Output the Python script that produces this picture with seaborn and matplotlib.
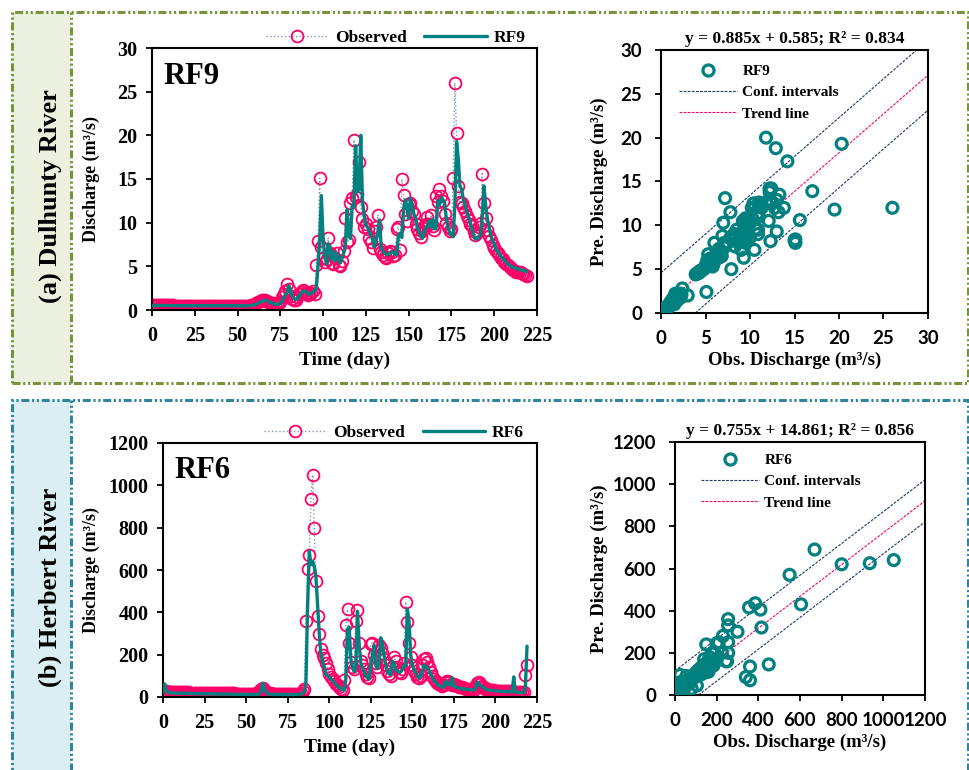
import numpy as np
import matplotlib
matplotlib.use("Agg")
import matplotlib.pyplot as plt
import seaborn as sns
from matplotlib.lines import Line2D
from matplotlib.patches import Rectangle

# Daily discharge, Dulhunty River (m3/s), rows of 10 days
RF9_OBS = [
    0.55, 0.55, 0.55, 0.54, 0.54, 0.54, 0.53, 0.53, 0.53, 0.52,
    0.52, 0.52, 0.52, 0.51, 0.51, 0.51, 0.50, 0.50, 0.50, 0.50,
    0.50, 0.49, 0.49, 0.49, 0.49, 0.48, 0.48, 0.48, 0.48, 0.47,
    0.47, 0.47, 0.47, 0.46, 0.46, 0.46, 0.46, 0.45, 0.45, 0.45,
    0.45, 0.45, 0.44, 0.44, 0.44, 0.44, 0.44, 0.43, 0.43, 0.43,
    0.43, 0.43, 0.42, 0.42, 0.42, 0.42, 0.45, 0.50, 0.55, 0.60,
    0.70, 0.80, 0.90, 1.00, 1.10, 1.20, 1.15, 1.00, 0.90, 0.85,
    0.80, 0.75, 0.70, 0.70, 0.75, 0.90, 1.50, 1.80, 2.20, 3.00,
    2.40, 1.60, 1.30, 1.10, 1.20, 1.50, 1.80, 2.10, 2.30, 2.20,
    1.90, 1.70, 1.80, 2.00, 2.20, 1.80, 5.10, 7.90, 15.1, 7.20,
    6.00, 5.50, 5.80, 8.30, 6.50, 5.40, 5.30, 5.90, 6.50, 5.20,
    5.00, 5.60, 6.80, 10.5, 7.80, 8.00, 12.3, 12.8, 19.5, 12.9,
    13.3, 17.0, 11.8, 10.4, 9.50, 9.80, 9.30, 8.20, 7.80, 7.10,
    9.00, 9.50, 10.9, 7.00, 6.60, 6.30, 6.10, 6.00, 6.50, 6.80,
    6.60, 6.20, 6.30, 9.30, 9.50, 6.90, 15.0, 13.2, 11.0, 10.2,
    12.1, 12.3, 11.3, 11.0, 9.80, 9.30, 8.80, 8.40, 9.00, 9.60,
    9.80, 10.6, 9.80, 10.9, 9.60, 9.20, 13.0, 12.4, 13.8, 13.0,
    12.5, 11.0, 10.0, 9.50, 9.00, 9.30, 15.1, 26.0, 20.3, 14.2,
    12.4, 12.2, 11.8, 11.3, 10.8, 10.3, 9.80, 9.60, 9.00, 8.60,
    8.80, 9.50, 10.0, 15.6, 12.2, 10.5, 9.20, 8.50, 8.00, 7.50,
    7.10, 6.80, 6.50, 6.30, 6.00, 5.80, 5.50, 5.30, 5.10, 4.90,
    4.80, 4.60, 4.50, 4.40, 4.30, 4.30, 4.20, 4.10, 4.00, 3.90,
]
RF9_PRED = [
    0.52, 0.52, 0.52, 0.52, 0.51, 0.51, 0.51, 0.51, 0.51, 0.51,
    0.50, 0.50, 0.50, 0.50, 0.50, 0.50, 0.50, 0.50, 0.50, 0.50,
    0.50, 0.50, 0.50, 0.50, 0.50, 0.50, 0.50, 0.50, 0.50, 0.50,
    0.49, 0.49, 0.49, 0.49, 0.49, 0.49, 0.49, 0.49, 0.49, 0.49,
    0.49, 0.49, 0.49, 0.49, 0.49, 0.49, 0.49, 0.49, 0.49, 0.49,
    0.48, 0.48, 0.48, 0.48, 0.48, 0.48, 0.48, 0.50, 0.52, 0.56,
    0.60, 0.68, 0.78, 0.88, 0.98, 1.08, 1.15, 1.05, 0.95, 0.85,
    0.78, 0.72, 0.68, 0.65, 0.66, 0.75, 1.00, 1.40, 1.75, 2.00,
    2.80, 2.20, 1.60, 1.30, 1.20, 1.30, 1.60, 1.90, 2.10, 2.20,
    2.10, 1.90, 1.80, 1.90, 2.10, 2.20, 2.40, 5.00, 8.00, 13.1,
    8.00, 6.20, 5.30, 7.60, 7.30, 5.80, 6.70, 5.60, 6.50, 6.00,
    5.40, 5.90, 6.50, 7.20, 11.5, 8.50, 8.20, 12.0, 11.8, 18.8,
    13.5, 13.9, 20.0, 12.5, 10.8, 9.70, 9.50, 9.00, 8.60, 8.00,
    7.20, 8.00, 9.00, 10.3, 7.20, 6.80, 6.50, 6.40, 6.30, 6.50,
    6.70, 6.60, 6.40, 6.30, 8.50, 8.80, 8.30, 11.5, 12.6, 12.0,
    10.5, 12.8, 12.2, 11.0, 10.6, 9.50, 9.00, 8.50, 8.20, 8.80,
    9.40, 9.60, 10.2, 9.50, 10.4, 9.30, 9.30, 12.5, 12.0, 12.9,
    12.6, 12.3, 10.5, 9.40, 8.80, 8.60, 8.40, 12.0, 19.3, 17.3,
    14.2, 13.8, 12.6, 12.0, 11.3, 10.7, 10.0, 9.30, 8.50, 8.10,
    8.20, 8.30, 8.60, 10.6, 14.2, 12.0, 10.5, 9.50, 8.60, 8.00,
    7.50, 7.00, 6.70, 6.40, 6.10, 5.90, 5.70, 5.50, 5.30, 5.10,
    5.00, 4.90, 4.80, 4.80, 4.70, 4.60, 4.60, 4.50, 4.50, 4.40,
]

# Daily discharge, Herbert River (m3/s)
RF6_OBS = [
    30, 28, 26, 25, 25, 24, 24, 24, 23, 23,
    23, 23, 22, 22, 22, 22, 21, 21, 21, 21,
    21, 20, 20, 20, 20, 20, 19, 19, 19, 19,
    19, 19, 18, 18, 18, 18, 18, 18, 17, 17,
    17, 17, 17, 17, 16, 16, 16, 16, 16, 16,
    16, 15, 15, 15, 15, 15, 15, 18, 28, 40,
    42, 35, 25, 20, 18, 17, 16, 16, 16, 15,
    15, 15, 15, 15, 15, 14, 14, 14, 14, 14,
    14, 14, 15, 18, 30, 40, 360, 605, 670, 935,
    1050, 800, 550, 385, 300, 225, 200, 185, 160, 130,
    110, 95, 85, 75, 60, 55, 45, 40, 35, 80,
    340, 415, 255, 165, 140, 130, 360, 410, 255, 170,
    150, 130, 110, 95, 90, 250, 255, 200, 160, 140,
    245, 230, 210, 180, 150, 125, 110, 100, 140, 190,
    170, 140, 120, 115, 130, 160, 450, 355, 255, 190,
    150, 125, 110, 95, 90, 100, 150, 180, 185, 165,
    140, 120, 100, 85, 75, 65, 60, 55, 50, 55,
    70, 75, 70, 60, 55, 60, 55, 50, 48, 45,
    45, 42, 40, 40, 38, 38, 36, 35, 45, 65,
    70, 60, 50, 45, 40, 38, 35, 33, 32, 32,
    30, 30, 29, 29, 28, 28, 27, 27, 26, 26,
    26, 25, 25, 25, 24, 24, 24, 25, 105, 150,
]
RF6_PRED = [
    20, 62, 30, 22, 20, 19, 19, 19, 18, 18,
    18, 18, 18, 17, 17, 17, 17, 17, 16, 16,
    16, 16, 16, 16, 15, 15, 15, 15, 15, 15,
    15, 15, 14, 14, 14, 14, 14, 14, 14, 14,
    14, 13, 13, 13, 13, 13, 13, 13, 13, 13,
    13, 13, 12, 12, 12, 12, 12, 12, 15, 25,
    65, 40, 22, 16, 14, 13, 13, 13, 12, 12,
    12, 12, 12, 12, 12, 12, 12, 12, 12, 12,
    12, 12, 12, 14, 18, 22, 70, 430, 690, 625,
    640, 620, 570, 435, 300, 200, 170, 140, 110, 100,
    95, 85, 80, 70, 60, 50, 45, 40, 35, 30,
    85, 320, 330, 180, 140, 120, 135, 405, 250, 160,
    140, 120, 100, 90, 85, 160, 200, 245, 150, 135,
    160, 280, 250, 200, 150, 120, 110, 105, 170, 160,
    130, 120, 115, 120, 130, 150, 145, 415, 360, 200,
    150, 130, 115, 100, 90, 95, 120, 150, 145, 140,
    125, 110, 95, 80, 70, 60, 55, 50, 45, 50,
    75, 60, 65, 55, 90, 50, 48, 45, 42, 40,
    40, 38, 37, 36, 35, 35, 34, 33, 40, 70,
    60, 55, 48, 42, 38, 35, 33, 32, 30, 30,
    29, 28, 28, 27, 27, 26, 26, 25, 25, 25,
    24, 95, 24, 22, 22, 21, 21, 20, 45, 240,
]

# regression results printed above the scatter plots
RF9_FIT = (0.885, 0.585, 0.834, 4.0)      # slope, intercept, R2, conf. half-width
RF6_FIT = (0.755, 14.861, 0.856, 100.0)

OBS_RING = "#ff0066"
OBS_LINE = "#8497b0"
TEAL = "#00807f"
NAVY = "#1f3864"

sns.set_theme(style="ticks")
plt.rcParams["font.family"] = ["Liberation Serif", "DejaVu Serif"]
plt.rcParams["font.weight"] = "bold"
plt.rcParams["axes.labelweight"] = "bold"
plt.rcParams["axes.edgecolor"] = "black"
plt.rcParams["text.color"] = "black"
plt.rcParams["axes.labelcolor"] = "black"
plt.rcParams["xtick.color"] = "black"
plt.rcParams["ytick.color"] = "black"

W, H = 970, 770
fig = plt.figure(figsize=(W / 100, H / 100), dpi=100)


def px_axes(left, top, right, bottom):
    return fig.add_axes([left / W, 1 - bottom / H, (right - left) / W, (bottom - top) / H])


def panel_box(top, bottom, edge, fill, label, label_y):
    dash = (0, (2.6, 0.9, 0.7, 0.9, 0.7, 0.9))
    x0, x1, xd = 12 / W, 968 / W, 71 / W
    y0, y1 = 1 - bottom / H, 1 - top / H
    fig.patches.append(Rectangle((x0, y0), xd - x0, y1 - y0, transform=fig.transFigure,
                                 fc=fill, ec="none", zorder=0))
    fig.patches.append(Rectangle((x0, y0), x1 - x0, y1 - y0, transform=fig.transFigure,
                                 fill=False, ec=edge, lw=2.2, ls=dash, zorder=1))
    fig.lines.append(Line2D([xd, xd], [y0, y1], transform=fig.transFigure,
                            color=edge, lw=2.2, ls=dash))
    fig.text(50 / W, 1 - label_y / H, label, rotation=90, ha="center", va="center",
             fontsize=19, fontweight="bold")


def style_axes(ax, xpad, ypad):
    for sp in ax.spines.values():
        sp.set_visible(True)
        sp.set_color("black")
        sp.set_linewidth(1.5)
    ax.tick_params(direction="out", length=4.5, width=1.3)
    ax.tick_params(axis="x", pad=xpad)
    ax.tick_params(axis="y", pad=ypad)
    ax.grid(False)


def draw_series(ax, obs, pred, name, ymax, ystep, legend_x, ylab_x):
    days = np.arange(len(obs))
    sns.lineplot(x=days, y=obs, ax=ax, estimator=None, sort=False,
                 color=OBS_LINE, linestyle=":", linewidth=1.0,
                 marker="o", markersize=8.5, markerfacecolor="none",
                 markeredgecolor=OBS_RING, markeredgewidth=1.3, zorder=2)
    sns.lineplot(x=days, y=pred, ax=ax, estimator=None, sort=False,
                 color=TEAL, linewidth=2.4, zorder=3)
    ax.set_xlim(0, 225)
    ax.set_xticks(np.arange(0, 226, 25))
    ax.set_ylim(0, ymax)
    ax.set_yticks(np.arange(0, ymax + 1, ystep))
    style_axes(ax, 7, 6)
    ax.tick_params(labelsize=14.5)
    ax.set_xlabel("Time (day)", fontsize=14, fontweight="bold", labelpad=4)
    ax.set_ylabel("Discharge (m³/s)", fontsize=13, fontweight="bold")
    ax.yaxis.set_label_coords(ylab_x, 0.5)
    ax.text(0.03, 0.89, name, transform=ax.transAxes, fontsize=22,
            fontweight="bold", ha="left", va="center")
    handles = [
        Line2D([], [], color=OBS_LINE, ls=":", lw=1.0, marker="o", ms=8.5,
               mfc="none", mec=OBS_RING, mew=1.3),
        Line2D([], [], color=TEAL, lw=2.4),
    ]
    ax.legend(handles, ["Observed", name], loc="lower right",
              bbox_to_anchor=(legend_x, 1.0), ncol=2, frameon=False,
              fontsize=12.5, handlelength=3.6, columnspacing=1.0,
              handletextpad=0.4, borderpad=0.1, borderaxespad=0)


def draw_scatter(ax, obs, pred, name, fit, lim, step, leg_anchor, ylab_x):
    slope, icpt, r2, ci = fit
    sns.scatterplot(x=obs, y=pred, ax=ax, s=62, color=TEAL, facecolor="none",
                    edgecolor=TEAL, linewidth=2.3, zorder=3, legend=False)
    ax.axline((0, icpt + ci), slope=slope, color=NAVY, lw=0.8, ls=(0, (2.5, 1.2)), zorder=2)
    ax.axline((0, icpt - ci), slope=slope, color=NAVY, lw=0.8, ls=(0, (2.5, 1.2)), zorder=2)
    ax.axline((0, icpt), slope=slope, color=OBS_RING, lw=0.8, ls=(0, (2.5, 1.2)), zorder=2)
    ax.set_xlim(0, lim)
    ax.set_ylim(0, lim)
    ax.set_xticks(np.arange(0, lim + 1, step))
    ax.set_yticks(np.arange(0, lim + 1, step))
    style_axes(ax, 8, 9)
    for lbl in ax.get_xticklabels() + ax.get_yticklabels():
        lbl.set_fontfamily("Lato")
        lbl.set_fontweight("bold")
        lbl.set_fontsize(13.5)
    ax.set_xlabel("Obs. Discharge (m³/s)", fontsize=13.5, fontweight="bold", labelpad=3)
    ax.set_ylabel("Pre. Discharge (m³/s)", fontsize=13.5, fontweight="bold")
    ax.yaxis.set_label_coords(ylab_x, 0.5)
    ax.set_title(f"y = {slope:.3f}x + {icpt:.3f}; R² = {r2:.3f}", fontsize=12.5,
                 fontweight="bold", pad=5)
    handles = [
        Line2D([], [], ls="none", marker="o", ms=8, mfc="none", mec=TEAL, mew=2.3),
        Line2D([], [], color=NAVY, lw=0.8, ls=(0, (2.5, 1.2))),
        Line2D([], [], color=OBS_RING, lw=0.8, ls=(0, (2.5, 1.2))),
    ]
    ax.legend(handles, [name, "Conf. intervals", "Trend line"], loc="upper left",
              bbox_to_anchor=leg_anchor, frameon=False, fontsize=11,
              handlelength=3.8, handletextpad=0.35, labelspacing=0.5,
              borderpad=0, borderaxespad=0)


panel_box(12, 383, "#77933c", "#ebf1de", "(a) Dulhunty River", 196)
panel_box(400, 790, "#31849b", "#dbeef4", "(b) Herbert River", 587)

ax1 = px_axes(152, 48, 537, 310)
draw_series(ax1, RF9_OBS, RF9_PRED, "RF9", 30, 5, 0.975, -0.135)
ax2 = px_axes(661, 50, 928, 313)
draw_scatter(ax2, RF9_OBS, RF9_PRED, "RF9", RF9_FIT, 30, 5, (0.067, 0.945), -0.199)

ax3 = px_axes(163, 443, 537, 697)
draw_series(ax3, RF6_OBS, RF6_PRED, "RF6", 1200, 200, 0.97, -0.168)
ax4 = px_axes(675, 442, 925, 695)
draw_scatter(ax4, RF6_OBS, RF6_PRED, "RF6", RF6_FIT, 1200, 200, (0.104, 0.955), -0.268)

fig.savefig("out.png", dpi=100)
